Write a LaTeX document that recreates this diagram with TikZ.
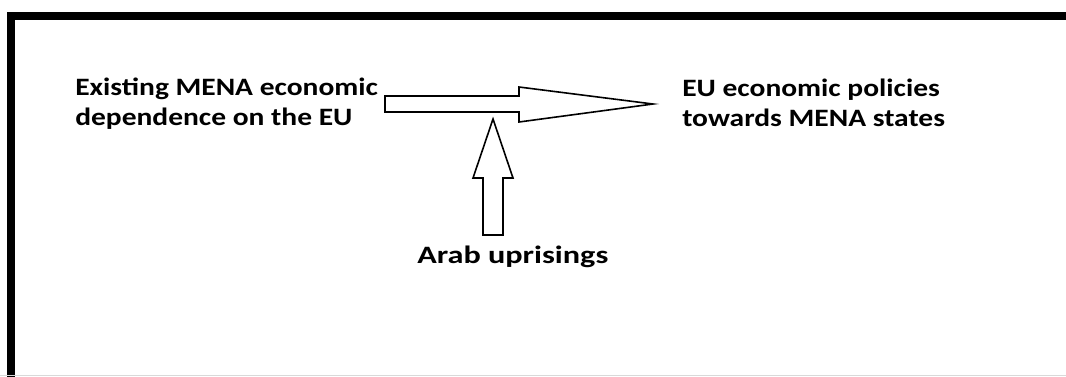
\documentclass[tikz,border=0pt]{standalone}
\usepackage{fontspec}
\usepackage{tikz}
\usetikzlibrary{calc,positioning}
\newfontfamily\boxfont{Carlito}[FakeStretch=1.18]
\newfontfamily\widefont{Carlito}[FakeStretch=1.29]

\begin{document}
\begin{tikzpicture}[x=0.75pt, y=-0.75pt,
    sidetext/.style={inner sep=0pt, align=left, anchor=base west,
      font={\boxfont\bfseries\fontsize{18.75pt}{22.5pt}\selectfont}},
    maintext/.style={inner sep=0pt, anchor=base west,
      font={\widefont\bfseries\fontsize{18.75pt}{22pt}\selectfont}},
    blockarrow/.style={draw=black, line width=1.2pt, fill=white, line join=miter}]
    \useasboundingbox (0,0) rectangle (1066,376);
    % frame
    \draw [line width=6pt] (11,380) -- (11,16) -- (1066,16);
    \draw [black!15, line width=0.75pt] (0,375.5) -- (1066,375.5);

    % base anchor sits on the last line
    \node [sidetext] (deps)   at (75,125)  {Existing MENA economic\\dependence on the EU};
    \node [sidetext] (policy) at (682,126) {EU economic policies\\towards MENA states};
    \node [maintext] (arab)   at (417,263) {Arab uprisings};

    \coordinate (tail)   at (385,104);
    \coordinate (tip)    at (653,104);
    \coordinate (uptail) at (493,235);
    \coordinate (uptip)  at (493,119);

    \draw [blockarrow] ($(tail)+(0,-8)$) -- ++(134,0) -- ++(0,-9) -- (tip)
          -- ++(-134,18) -- ++(0,-10) -- ($(tail)+(0,8)$) -- cycle;
    \draw [blockarrow] ($(uptail)+(-10,0)$) -- ++(0,-57) -- ++(-10,0) -- (uptip)
          -- ++(20,59) -- ++(-10,0) -- ($(uptail)+(10,0)$) -- cycle;
\end{tikzpicture}
\end{document}
